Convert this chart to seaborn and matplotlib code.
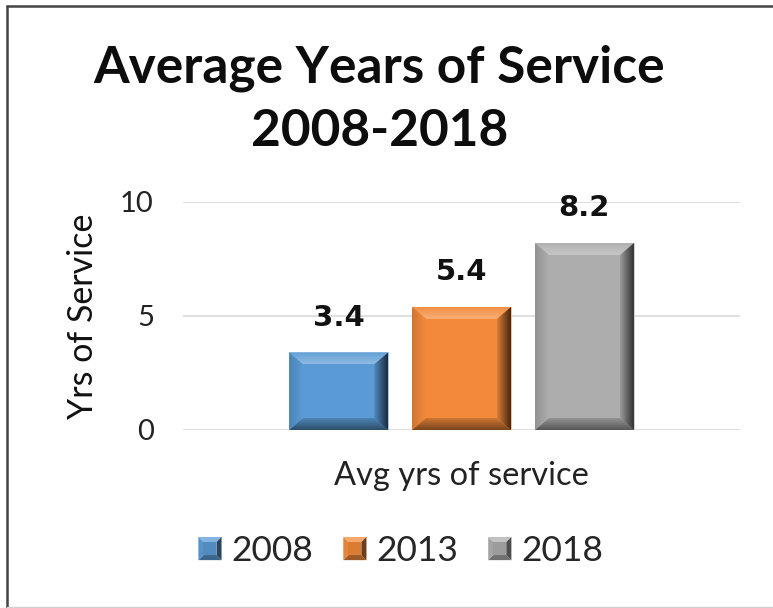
import matplotlib
matplotlib.use("Agg")
import numpy as np
import pandas as pd
import seaborn as sns
import matplotlib.pyplot as plt
import matplotlib.colors as mcolors
from matplotlib.patches import Polygon, Patch
from matplotlib.legend_handler import HandlerBase
from matplotlib.lines import Line2D

# --- data -------------------------------------------------------------
groups = ["Avg yrs of service", "Avg yrs of service", "Avg yrs of service"]
years = ["2008", "2013", "2018"]
avg_years = [3.4, 5.4, 8.2]
bar_colors = ["#5B9BD5", "#F38A3B", "#ADADAD"]
y_ticks = [0, 5, 10]

df = pd.DataFrame({"group": groups, "year": years, "value": avg_years})

sns.set_theme(style="white")
plt.rcParams["font.family"] = ["Lato", "DejaVu Sans"]

W, H = 773, 608
fig = plt.figure(figsize=(W / 100, H / 100), dpi=100)
ax_left, ax_right, ax_bottom, ax_top = 183, 740, 430, 202   # pixel positions
ax = fig.add_axes([ax_left / W, 1 - ax_bottom / H,
                   (ax_right - ax_left) / W, (ax_bottom - ax_top) / H])

sns.barplot(data=df, x="group", y="value", hue="year", hue_order=years,
            palette=bar_colors, saturation=1, width=0.662, gap=0.194,
            legend=False, ax=ax, zorder=2)

ax.set_xlim(-0.5, 0.5)
ax.set_ylim(0, 10)
ax.set_yticks(y_ticks)
ax.yaxis.grid(True, color="#d9d9d9", linewidth=1.2)
ax.set_axisbelow(True)
for s in ax.spines.values():
    s.set_visible(False)
ax.tick_params(axis="both", length=0, colors="#222222")
ax.tick_params(axis="y", pad=21, labelsize=21)
ax.tick_params(axis="x", pad=22, labelsize=23.5)
ax.set_xlabel("")
ax.set_ylabel("Yrs of Service", fontsize=24.5, color="#111111", labelpad=15)


def mix(c, other, t):
    a = np.array(mcolors.to_rgb(c))
    b = np.array(mcolors.to_rgb(other))
    return a * (1 - t) + b * t


def gradient_facet(poly, extent, c_start, c_end, vertical):
    n = 64
    t = np.linspace(0, 1, n)[:, None]
    ramp = c_start[None, :] * (1 - t) + c_end[None, :] * t
    if vertical:
        img = ramp[:, None, :].repeat(2, axis=1)      # rows bottom -> top
    else:
        img = ramp[None, :, :].repeat(2, axis=0)      # cols left -> right
    im = ax.imshow(np.clip(img, 0, 1), extent=extent, origin="lower",
                   aspect="auto", interpolation="bilinear", zorder=3)
    clip = Polygon(poly, closed=True, facecolor="none", edgecolor="none",
                   transform=ax.transData)
    ax.add_patch(clip)
    im.set_clip_path(clip)


# bevel widths in data units, derived from the axes size in pixels
px_x = (ax_right - ax_left) / 1.0
px_y = (ax_bottom - ax_top) / 10.0
dx = 14 / px_x
dy = 12 / px_y

for container, base in zip(ax.containers, bar_colors):
    for bar in container:
        x0, y0 = bar.get_x(), bar.get_y()
        x1, y1 = x0 + bar.get_width(), y0 + bar.get_height()
        # top facet
        gradient_facet([(x0, y1), (x1, y1), (x1 - dx, y1 - dy), (x0 + dx, y1 - dy)],
                       [x0, x1, y1 - dy, y1],
                       mix(base, "white", 0.32), mix(base, "white", 0.05), True)
        # bottom facet
        gradient_facet([(x0, y0), (x1, y0), (x1 - dx, y0 + dy), (x0 + dx, y0 + dy)],
                       [x0, x1, y0, y0 + dy],
                       mix(base, "black", 0.5), mix(base, "black", 0.15), True)
        # left facet
        gradient_facet([(x0, y0), (x0 + dx, y0 + dy), (x0 + dx, y1 - dy), (x0, y1)],
                       [x0, x0 + dx, y0, y1],
                       mix(base, "black", 0.15), mix(base, "black", 0.0), False)
        # right facet
        gradient_facet([(x1, y0), (x1 - dx, y0 + dy), (x1 - dx, y1 - dy), (x1, y1)],
                       [x1 - dx, x1, y0, y1],
                       mix(base, "black", 0.1), mix(base, "black", 0.72), False)
        bar.set_edgecolor(mix(base, "white", 0.45))
        bar.set_linewidth(0.6)

for container, val in zip(ax.containers, avg_years):
    ax.bar_label(container, labels=[f"{val:.1f}"], padding=15,
                 fontsize=21, fontweight="bold", color="#111111",
                 family=["DejaVu Sans"])

ax.set_xlim(-0.5, 0.5)
ax.set_ylim(0, 10)

fig.suptitle("Average Years of Service\n2008-2018", x=0.491, y=0.926,
             fontsize=37, fontweight="bold", linespacing=1.42, va="top",
             color="#0d0d0d")


class BevelSquare(HandlerBase):
    def __init__(self, color):
        super().__init__()
        self.color = color

    def create_artists(self, legend, orig_handle, xdescent, ydescent,
                       width, height, fontsize, trans):
        s = height
        x0 = -xdescent + (width - s) / 2
        y0 = -ydescent
        x1, y1 = x0 + s, y0 + s
        i = s * 0.22
        c = self.color
        parts = [
            ([(x0, y1), (x1, y1), (x1 - i, y1 - i), (x0 + i, y1 - i)], mix(c, "white", 0.25)),
            ([(x0, y0), (x1, y0), (x1 - i, y0 + i), (x0 + i, y0 + i)], mix(c, "black", 0.35)),
            ([(x0, y0), (x0 + i, y0 + i), (x0 + i, y1 - i), (x0, y1)], mix(c, "black", 0.05)),
            ([(x1, y0), (x1 - i, y0 + i), (x1 - i, y1 - i), (x1, y1)], mix(c, "black", 0.55)),
            ([(x0 + i, y0 + i), (x1 - i, y0 + i), (x1 - i, y1 - i), (x0 + i, y1 - i)], mix(c, "black", 0.1)),
        ]
        arts = []
        for pts, col in parts:
            p = Polygon(pts, closed=True, facecolor=col, edgecolor="none", transform=trans)
            arts.append(p)
        return arts


handles = [Patch(facecolor=c) for c in bar_colors]
fig.legend(handles=handles, labels=years, loc="center", ncol=3,
           bbox_to_anchor=(0.519, 1 - 551 / H), frameon=False, fontsize=25.5,
           handlelength=0.63, handleheight=0.63, handletextpad=0.3,
           columnspacing=0.85,
           handler_map={h: BevelSquare(c) for h, c in zip(handles, bar_colors)})

# chart frame
fig.add_artist(Line2D([7 / W, 1], [1 - 6 / H, 1 - 6 / H], transform=fig.transFigure,
                      color="#444444", linewidth=1.8))
fig.add_artist(Line2D([7 / W, 7 / W], [0, 1 - 6 / H], transform=fig.transFigure,
                      color="#444444", linewidth=1.8))
fig.add_artist(Line2D([7 / W, 1], [1.5 / H, 1.5 / H], transform=fig.transFigure,
                      color="#d0d0d0", linewidth=1.0))

fig.savefig("out.png", dpi=100, facecolor="white")
